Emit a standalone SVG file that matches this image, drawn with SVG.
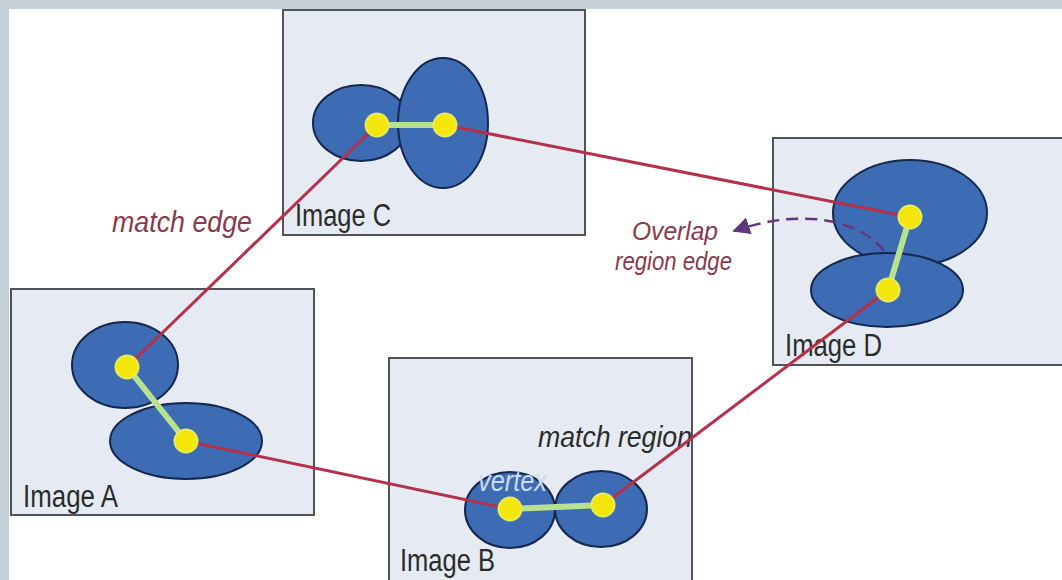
<svg xmlns="http://www.w3.org/2000/svg" width="1062" height="580" viewBox="0 0 1062 580">
  <style>
    .frame { fill: #c5d0d8; }
    .img { fill: #e6ebf3; stroke: #505458; stroke-width: 2; }
    .region { fill: #3d6cb4; stroke: #14284f; stroke-width: 2; }
    .match { stroke: #b5304a; stroke-width: 3; fill: none; stroke-linecap: round; }
    .overlap { stroke: #b8e28e; stroke-width: 6; stroke-linecap: round; }
    .vertex { fill: #f4e60a; stroke: #e9ec5a; stroke-width: 2; }
    .label { font-family: "Liberation Sans", Arial, sans-serif; font-size: 31px; fill: #2b2b2b; }
    .note { font-family: "Liberation Sans", Arial, sans-serif; font-size: 29px; font-style: italic; }
    .maroon { fill: #8a3a4a; }
    .dark { fill: #2b2b2b; }
    .light { fill: #c9dcf0; }
    .dash { stroke: #5e3878; stroke-width: 2.5; fill: none; stroke-dasharray: 12 7; }
  </style>
  <defs>
    <marker id="tip" viewBox="0 0 10 10" refX="9" refY="5" markerWidth="7" markerHeight="7" orient="auto" markerUnits="strokeWidth">
      <path d="M0,0 L10,5 L0,10 z" fill="#5e3878"/>
    </marker>
  </defs>

  <!-- page background with frame on top and left -->
  <rect x="0" y="0" width="1062" height="580" fill="#ffffff"/>
  <rect class="frame" x="0" y="0" width="1062" height="9"/>
  <rect class="frame" x="0" y="0" width="9" height="580"/>

  <!-- image nodes -->
  <g id="image-c">
    <rect class="img" x="283" y="10" width="302" height="225"/>
    <ellipse class="region" cx="361" cy="123" rx="48" ry="38"/>
    <ellipse class="region" cx="443" cy="123" rx="45" ry="65"/>
    <text class="label" x="295" y="226" textLength="96" lengthAdjust="spacingAndGlyphs">Image C</text>
  </g>

  <g id="image-d">
    <rect class="img" x="773" y="138" width="300" height="227"/>
    <ellipse class="region" cx="910" cy="213" rx="77" ry="53"/>
    <ellipse class="region" cx="887" cy="290" rx="76" ry="37"/>
    <text class="label" x="785" y="356" textLength="97" lengthAdjust="spacingAndGlyphs">Image D</text>
  </g>

  <g id="image-a">
    <rect class="img" x="11" y="289" width="303" height="226"/>
    <ellipse class="region" cx="125" cy="365" rx="53" ry="43"/>
    <ellipse class="region" cx="186" cy="441" rx="76" ry="38"/>
    <text class="label" x="23" y="507" textLength="95" lengthAdjust="spacingAndGlyphs">Image A</text>
  </g>

  <g id="image-b">
    <rect class="img" x="389" y="358" width="303" height="240"/>
    <ellipse class="region" cx="510" cy="510" rx="45" ry="38"/>
    <ellipse class="region" cx="601" cy="509" rx="46" ry="38"/>
    <text class="note light" x="478" y="491" textLength="69" lengthAdjust="spacingAndGlyphs">vertex</text>
    <text class="label" x="400" y="571" textLength="95" lengthAdjust="spacingAndGlyphs">Image B</text>
  </g>

  <!-- annotations -->
  <g id="notes">
    <text class="note maroon" x="112" y="232" textLength="140" lengthAdjust="spacingAndGlyphs">match edge</text>
    <text class="note maroon" x="632" y="240" textLength="86" lengthAdjust="spacingAndGlyphs" style="font-size:26px">Overlap</text>
    <text class="note maroon" x="615" y="270" textLength="117" lengthAdjust="spacingAndGlyphs" style="font-size:26px">region edge</text>
    <text class="note dark" x="538" y="447" textLength="154" lengthAdjust="spacingAndGlyphs">match region</text>
  </g>

  <!-- match edges between images, plus the overlap-edge pointer -->
  <g id="connectors">
    <line class="match" x1="377" y1="125" x2="127" y2="367"/>
    <line class="match" x1="445" y1="125" x2="910" y2="217"/>
    <line class="match" x1="186" y1="441" x2="510" y2="509"/>
    <line class="match" x1="603" y1="505" x2="888" y2="290"/>
    <path class="dash" d="M884,251 C862,222 806,206 734,231" marker-end="url(#tip)"/>
  </g>

  <!-- graph vertices and overlap-region edges inside each image -->
  <g id="vertices">
    <line class="overlap" x1="377" y1="125" x2="445" y2="125"/>
    <line class="overlap" x1="910" y1="217" x2="888" y2="290"/>
    <line class="overlap" x1="127" y1="367" x2="186" y2="441"/>
    <line class="overlap" x1="510" y1="509" x2="603" y2="505"/>
    <circle id="v-c1" class="vertex" cx="377" cy="125" r="11.5"/>
    <circle id="v-c2" class="vertex" cx="445" cy="125" r="11.5"/>
    <circle id="v-d1" class="vertex" cx="910" cy="217" r="11.5"/>
    <circle id="v-d2" class="vertex" cx="888" cy="290" r="11.5"/>
    <circle id="v-a1" class="vertex" cx="127" cy="367" r="11.5"/>
    <circle id="v-a2" class="vertex" cx="186" cy="441" r="11.5"/>
    <circle id="v-b1" class="vertex" cx="510" cy="509" r="11.5"/>
    <circle id="v-b2" class="vertex" cx="603" cy="505" r="11.5"/>
  </g>
</svg>
